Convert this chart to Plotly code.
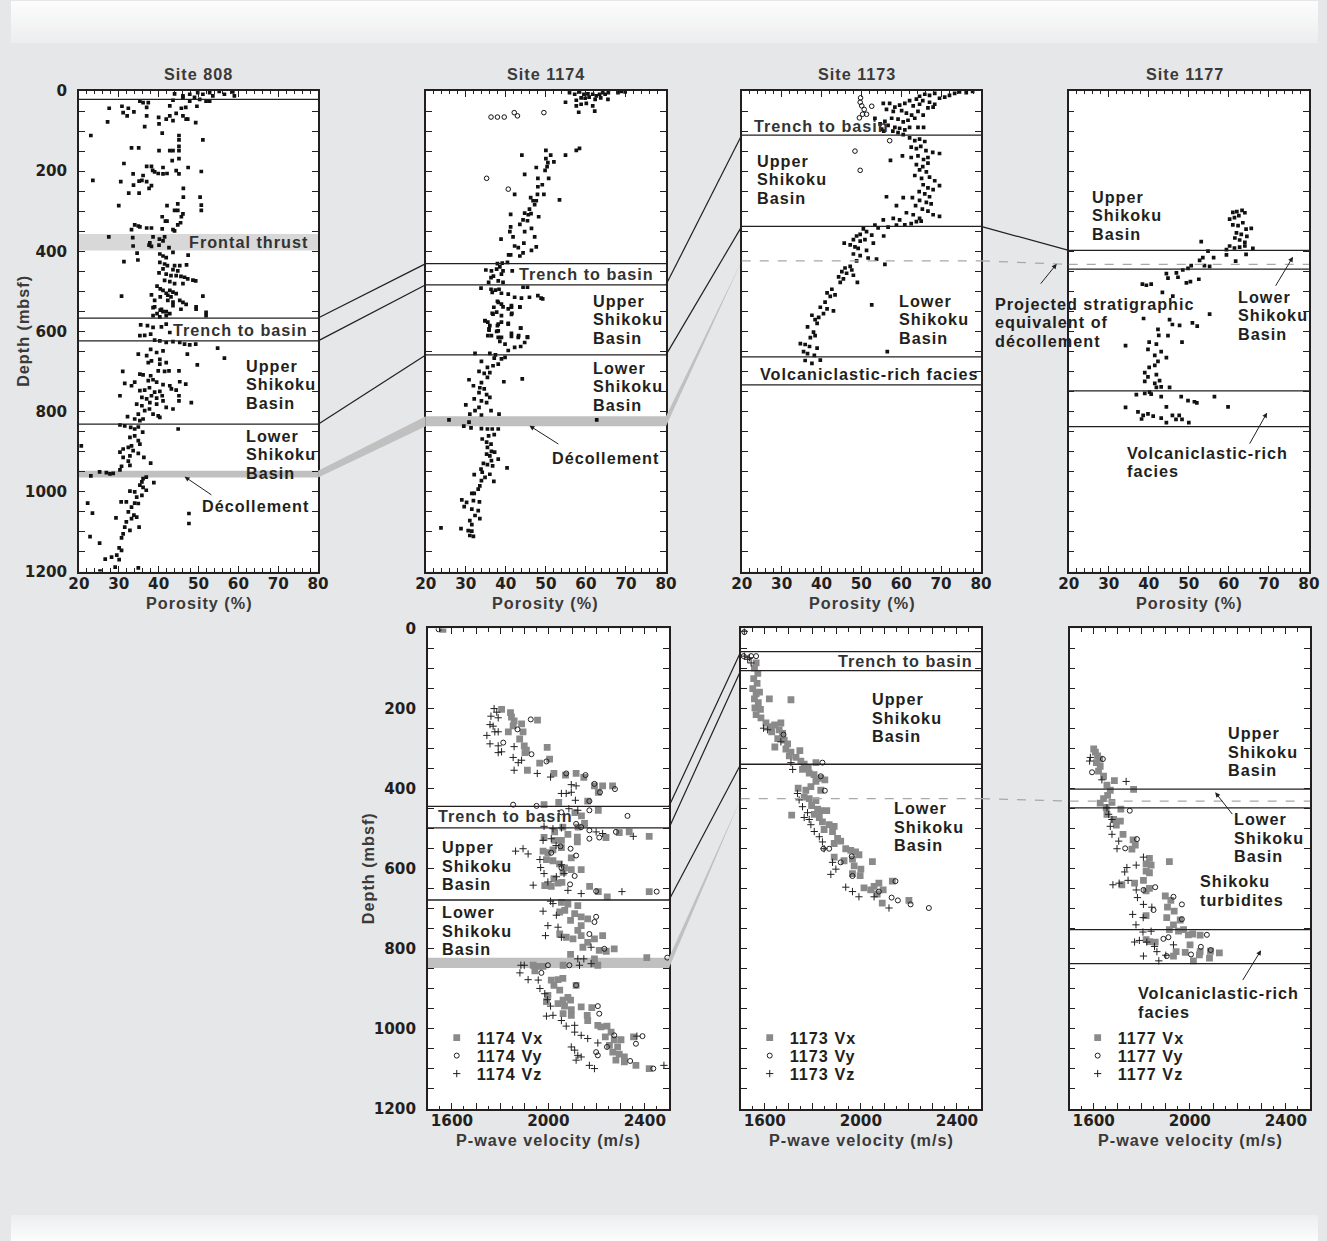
import plotly.graph_objects as go

# Layout is designed on a 1327 x 1241 canvas; the browser view the page is shown in is
# 1345 x 1258 with the default 8 px body margin, so canvas pixels are converted below.
W, H = 1327, 1241
VIEW_W, VIEW_H = 1345, 1258
MARGIN = 8
SX, SY = VIEW_W / W, VIEW_H / H
FW, FH = 1329, 1242

FONT = "Liberation Sans"
NUMFONT = "DejaVu Sans"
INK = "#231f20"
TITLE_INK = "#3a3a3a"
PAGE = "#e6e7e8"

DEPTH_MAX = 1200
POR_RANGE = [20, 80]
VEL_RANGE = [1500, 2500]

# ---------------- porosity (%) , depth (mbsf) ----------------
POR_808 = [
    (44.0, 7), (46.1, 12), (47.8, 8), (49.8, 4), (51.1, 8), (52.8, 4), (53.6, 12), (55.2, 1), (56.5, 8),
    (58.6, 2), (59.0, 12), (49.0, 16), (50.3, 21), (51.9, 25), (52.8, 25), (43.6, 23), (46.1, 16), (47.8, 25),
    (35.3, 25), (36.1, 29), (37.4, 29), (37.0, 41), (27.6, 43), (30.8, 38), (32.4, 43), (31.1, 54), (32.1, 62),
    (33.8, 52), (37.0, 62), (27.2, 77), (36.5, 89), (40.0, 66), (41.9, 70), (42.8, 62), (43.6, 74), (44.4, 56),
    (45.7, 43), (46.8, 41), (46.1, 62), (46.9, 70), (47.3, 70), (49.3, 79), (49.6, 38), (42.8, 37), (40.1, 82),
    (40.9, 105), (23.0, 111), (45.1, 111), (45.1, 122), (51.1, 122), (45.1, 138), (33.2, 142), (35.0, 142),
    (40.1, 149), (42.8, 149), (43.6, 149), (45.1, 149), (45.1, 169), (43.4, 174), (31.3, 181), (37.0, 188),
    (38.2, 188), (41.1, 191), (38.5, 198), (39.0, 202), (39.9, 206), (41.1, 207), (42.1, 206), (44.4, 199),
    (45.1, 207), (47.4, 191), (50.7, 201), (33.6, 207), (36.1, 211), (35.1, 225), (35.8, 223), (37.0, 226),
    (23.5, 223), (30.5, 226), (33.7, 235), (37.6, 243), (38.2, 236), (32.5, 255), (35.1, 255), (46.2, 243),
    (46.2, 265), (50.4, 265), (50.7, 285), (50.7, 298), (30.0, 286), (42.1, 286), (44.8, 282), (44.0, 298),
    (44.8, 298), (46.1, 307), (45.7, 314), (40.9, 314), (41.7, 325), (42.1, 325), (45.5, 329), (44.8, 334),
    (43.6, 346), (44.0, 349), (40.9, 344), (34.0, 334), (34.9, 337), (35.3, 339), (37.0, 342), (38.2, 342),
    (33.2, 346), (27.5, 364), (33.5, 366), (38.6, 364), (41.5, 364), (41.1, 374), (40.2, 370), (33.6, 387),
    (37.6, 385), (38.2, 388), (40.1, 385), (37.8, 379), (42.6, 391), (34.6, 405), (40.3, 407), (41.1, 412),
    (43.6, 403), (47.4, 410), (34.8, 422), (31.3, 426), (41.9, 416), (40.3, 428), (41.5, 432), (42.2, 436),
    (44.0, 436), (45.3, 436), (47.0, 434), (41.1, 444), (43.6, 446), (44.8, 449), (40.1, 454), (41.9, 457),
    (43.1, 461), (44.4, 461), (45.6, 463), (46.5, 465), (47.3, 469), (48.6, 472), (49.3, 474), (41.5, 473),
    (42.8, 476), (44.0, 481), (46.1, 481), (39.6, 487), (40.4, 494), (41.1, 498), (42.8, 498), (41.9, 505),
    (43.6, 502), (44.4, 506), (42.3, 510), (43.1, 514), (30.7, 512), (38.2, 509), (39.0, 523), (40.4, 514),
    (51.1, 512), (42.3, 523), (43.6, 527), (45.3, 523), (46.9, 533), (49.4, 539), (45.6, 545), (39.0, 539),
    (40.4, 547), (41.1, 551), (39.6, 556), (42.8, 556), (51.9, 553), (41.9, 551),
    (38.6, 541), (40.7, 545), (43.6, 536), (46.1, 528), (49.4, 545), (51.9, 561), (38.6, 561), (40.3, 564),
    (41.9, 561), (35.5, 584), (37.2, 586), (38.6, 590), (40.7, 589), (41.9, 582), (42.8, 603), (38.0, 607),
    (35.3, 611), (36.5, 610), (39.0, 622), (40.3, 624), (41.9, 628), (43.6, 626), (45.3, 628), (46.5, 632),
    (47.8, 634), (49.3, 632), (54.8, 642), (56.5, 667), (47.2, 657), (38.0, 645), (39.5, 653), (41.1, 649),
    (34.9, 657), (37.0, 661), (38.2, 674), (40.3, 670), (41.9, 678), (37.4, 678), (49.7, 684), (40.3, 682),
    (31.0, 700), (35.3, 707), (36.1, 709), (38.0, 711), (39.9, 699), (41.5, 700), (42.6, 699), (45.1, 699),
    (38.6, 721), (39.5, 727), (37.4, 723), (31.5, 730), (33.2, 736), (34.0, 727), (41.1, 733), (42.8, 736),
    (45.3, 726), (46.8, 732), (35.3, 748), (36.5, 747), (37.7, 741), (39.0, 752), (40.3, 750), (43.2, 744),
    (44.4, 747), (30.3, 761), (35.8, 765), (37.0, 769), (38.2, 761), (39.5, 767), (40.9, 761), (45.1, 761),
    (48.2, 778), (34.5, 782), (35.8, 786), (37.8, 778), (39.5, 782), (41.1, 774), (45.1, 774), (41.9, 790),
    (43.6, 794), (36.5, 798), (37.7, 794), (34.9, 807), (38.6, 807), (39.9, 811), (40.3, 815), (32.2, 813),
    (34.0, 819), (35.3, 823), (36.1, 819), (30.3, 834), (31.5, 836), (33.0, 840), (34.0, 844), (34.9, 839),
    (36.0, 852), (44.9, 844), (32.8, 865), (34.0, 861), (34.9, 873), (35.3, 882), (33.2, 886), (32.4, 890),
    (31.1, 894), (33.6, 898), (34.9, 905), (32.8, 911), (30.3, 902), (31.1, 915), (36.3, 915), (20.6, 886),
    (38.0, 929), (32.4, 924), (30.7, 937), (32.8, 935), (30.3, 946), (28.6, 955), (26.9, 953), (25.2, 951),
    (23.0, 961), (27.8, 956), (36.1, 968), (36.9, 964), (38.8, 978), (35.8, 976), (35.3, 984), (36.1, 990),
    (36.9, 997), (32.8, 999), (34.0, 1001), (35.8, 1010), (34.5, 1014), (30.6, 1026), (31.9, 1026), (34.0, 1029),
    (34.9, 1030), (22.2, 1029), (33.2, 1039), (32.4, 1051), (33.8, 1059), (34.5, 1064), (33.2, 1068), (23.4, 1054),
    (29.3, 1066), (47.6, 1055), (47.6, 1080), (31.9, 1076), (31.5, 1089), (32.8, 1097), (35.1, 1089), (31.1, 1106),
    (30.7, 1116), (22.8, 1113), (25.2, 1129), (30.1, 1141), (30.7, 1147), (29.5, 1159), (26.6, 1169), (28.2, 1164),
    (29.1, 1189), (25.3, 1199), (34.9, 1191), (30.1, 1170),
]

POR_1174 = [
    (55.9, 4), (57.2, 8), (58.4, 2), (59.5, 8), (60.5, 7), (61.7, 8), (62.6, 12), (63.4, 8), (64.2, 4), (64.8, 8),
    (65.6, 4), (68.0, 4), (68.8, 1), (69.8, 2), (57.6, 23), (58.8, 17), (59.8, 18), (60.8, 15), (62.3, 21),
    (63.7, 17), (65.5, 21), (54.9, 28), (57.6, 37), (58.8, 33), (60.1, 31), (61.7, 37), (58.2, 53), (62.2, 50),
    (50.0, 148), (51.2, 160), (50.0, 169), (52.0, 177), (54.9, 160), (57.6, 148), (58.4, 143), (44.0, 160),
    (50.5, 179), (50.3, 189), (47.6, 191), (49.8, 198), (44.7, 208), (48.0, 218), (50.7, 218), (49.1, 234),
    (48.0, 239), (53.4, 272), (42.2, 258), (47.9, 258), (49.5, 258), (46.2, 266), (46.8, 274), (47.6, 274),
    (47.2, 284), (45.9, 295), (46.3, 306), (44.7, 305), (45.6, 309), (48.2, 314), (41.2, 308), (44.3, 322),
    (45.4, 324), (43.5, 333), (46.4, 343), (41.2, 339), (44.7, 351), (41.0, 351), (41.8, 364), (38.8, 370),
    (47.2, 364), (42.2, 387), (43.1, 391), (47.6, 389), (46.4, 398), (44.5, 380), (44.3, 404), (40.7, 409),
    (41.2, 409), (43.5, 412), (40.4, 428), (39.1, 430), (37.9, 431), (38.5, 439), (37.7, 445), (36.4, 449),
    (35.0, 447), (39.3, 449), (38.9, 457), (41.6, 449), (36.9, 462), (36.3, 466), (38.1, 474), (39.3, 478),
    (35.7, 478), (33.8, 492), (36.3, 495), (37.4, 497), (38.3, 495), (36.6, 503), (38.9, 505), (40.6, 507),
    (44.3, 490), (45.4, 490), (42.2, 515), (43.9, 517), (45.9, 515), (48.0, 511), (48.8, 517), (49.2, 519),
    (37.9, 525), (38.9, 532), (37.0, 540), (40.6, 544), (41.4, 540), (43.5, 540), (37.7, 552), (41.5, 555),
    (36.6, 555), (34.8, 573), (35.5, 577), (38.9, 577), (40.6, 582), (37.9, 586), (35.8, 594), (38.1, 599),
    (43.7, 592), (35.5, 611), (38.1, 615), (41.4, 613), (43.1, 615), (45.4, 615),
    (38.1, 528), (39.3, 539), (41.4, 536), (43.5, 539), (36.8, 557), (38.9, 561), (41.4, 558), (34.8, 574),
    (36.0, 586), (38.1, 582), (40.6, 580), (43.7, 592), (35.8, 597), (37.7, 600), (41.4, 605), (43.2, 611),
    (45.4, 614), (36.4, 611), (38.9, 615), (38.5, 625), (39.8, 632), (42.2, 640), (43.7, 638), (40.6, 648),
    (44.7, 628), (32.3, 655), (36.0, 655), (37.4, 659), (37.1, 667), (38.9, 669), (39.8, 665), (33.9, 675),
    (38.1, 682), (36.8, 686), (35.4, 690), (33.3, 700), (34.6, 705), (36.0, 703), (35.4, 715), (39.5, 726),
    (44.1, 719), (30.8, 721), (33.9, 728), (31.9, 736), (33.5, 741), (34.6, 744), (33.3, 753), (35.2, 758),
    (36.0, 765), (32.1, 769), (33.9, 774), (35.2, 778), (30.0, 784), (33.3, 790), (36.3, 798), (32.3, 798),
    (38.3, 807), (33.9, 809), (31.0, 807), (25.8, 821), (30.8, 827), (29.5, 837), (31.3, 841), (62.7, 821),
    (33.9, 843), (35.4, 844), (36.6, 844), (38.1, 844), (35.7, 861), (37.1, 858), (34.1, 869), (35.2, 877),
    (36.3, 882), (35.4, 890), (36.4, 900), (37.2, 902), (35.2, 907), (36.0, 911), (38.1, 919), (36.4, 923),
    (34.4, 930), (35.4, 933), (36.7, 936), (40.3, 941), (33.8, 944), (34.1, 952), (36.0, 957), (34.8, 965),
    (37.0, 975), (32.1, 958), (33.9, 973), (33.5, 986), (33.1, 994), (32.1, 1005), (31.5, 1005), (29.0, 1021),
    (30.2, 1027), (31.9, 1023), (33.4, 1026), (29.6, 1038), (31.5, 1044), (33.1, 1048), (32.3, 1060),
    (33.5, 1068), (31.0, 1073), (31.5, 1083), (23.8, 1091), (28.8, 1093), (30.6, 1098), (31.5, 1099),
    (31.0, 1110), (31.9, 1112),
]
POR_1174_OPEN = [(36.3, 65), (37.9, 65), (39.6, 65), (42.1, 54), (42.9, 62), (49.5, 54), (35.2, 218), (40.6, 245)]

POR_1173 = [
    (77.9, 1), (76.3, 4), (74.6, 2), (73.4, 6), (72.1, 11), (70.9, 15), (69.6, 18), (68.4, 6), (67.1, 11),
    (65.9, 8), (64.6, 13), (63.8, 20), (65.4, 24), (67.1, 28), (68.4, 33), (66.7, 42), (68.0, 40), (64.6, 33),
    (63.0, 37), (62.1, 24), (60.9, 31), (59.6, 35), (58.4, 40), (57.1, 31), (55.5, 31), (56.3, 46), (58.0, 51),
    (60.1, 49), (61.3, 55), (62.6, 60), (64.2, 51), (65.5, 60), (63.4, 68), (61.7, 73), (60.5, 77), (59.2, 70),
    (57.6, 68), (55.9, 76), (56.7, 86), (58.4, 91), (59.6, 93), (60.9, 97), (62.1, 91), (64.2, 91), (65.6, 91),
    (59.2, 104), (60.5, 109), (57.9, 100), (55.6, 100), (55.1, 95), (54.7, 82), (53.4, 68),
    (62.1, 117), (63.4, 124), (64.6, 120), (65.9, 126), (62.5, 140), (63.8, 144), (64.9, 138), (66.2, 149),
    (67.9, 153), (69.6, 156), (62.5, 166), (64.2, 162), (65.6, 171), (66.7, 166), (60.3, 162), (57.3, 173),
    (63.8, 184), (65.4, 189), (66.7, 180), (64.6, 197), (66.3, 202), (63.4, 211), (65.1, 218), (67.1, 215),
    (68.4, 224), (69.6, 236), (65.5, 234), (66.7, 242), (68.0, 246), (64.5, 251), (65.9, 257), (67.1, 264),
    (56.3, 264), (60.5, 266), (62.8, 266), (64.6, 273), (66.3, 278), (67.5, 282), (63.6, 286), (58.8, 286),
    (65.3, 295), (66.7, 300), (69.6, 313), (68.0, 309), (61.3, 304), (63.0, 309), (64.6, 318), (58.0, 318),
    (59.6, 322), (55.5, 322), (62.5, 331), (63.8, 326), (65.0, 325), (60.9, 334), (58.8, 335), (56.7, 340),
    (53.4, 335), (54.2, 342),
    (50.5, 344), (51.3, 351), (49.7, 358), (48.8, 362), (52.6, 360), (55.6, 362), (48.0, 371), (49.7, 375),
    (50.9, 371), (53.0, 380), (45.7, 380), (47.2, 384), (48.4, 389), (49.2, 393), (51.3, 398), (48.0, 407),
    (49.7, 411), (51.7, 417), (53.8, 420), (55.9, 433), (48.8, 424), (47.2, 438), (45.9, 442), (45.1, 451),
    (46.3, 455), (47.6, 447), (44.3, 464), (45.5, 469), (44.7, 478), (48.0, 460), (49.0, 478), (42.6, 495),
    (41.4, 504), (42.2, 513), (43.4, 509), (40.9, 527), (39.7, 540), (41.4, 544), (43.0, 549), (40.5, 556),
    (39.3, 565), (38.4, 571), (37.6, 560), (36.5, 589), (38.9, 580), (38.0, 602), (38.4, 611), (37.2, 616),
    (52.6, 534), (34.7, 631), (35.9, 633), (37.0, 638), (38.9, 642), (35.5, 651), (36.5, 656), (38.2, 660),
    (39.7, 672), (35.9, 673), (37.6, 680), (56.5, 651),
]
POR_1173_OPEN = [(49.8, 17), (49.7, 28), (50.1, 37), (50.7, 46), (50.3, 58), (51.3, 58), (49.5, 67), (52.6, 38),
                 (57.1, 124), (48.4, 150), (49.7, 198)]

POR_1177 = [
    (61.0, 303), (62.0, 301), (63.3, 298), (64.0, 304), (60.2, 320), (61.4, 316), (62.5, 311), (61.0, 334),
    (62.3, 336), (63.5, 329), (64.3, 345), (65.6, 343), (61.9, 354), (63.1, 358), (64.5, 363), (61.5, 367),
    (62.7, 372), (64.0, 378), (60.2, 387), (61.4, 392), (62.7, 390), (64.0, 387), (66.0, 393), (64.3, 408),
    (59.4, 396), (59.4, 409), (61.7, 425), (56.2, 416), (54.8, 400), (53.1, 376), (53.5, 416), (52.7, 423),
    (53.9, 436), (55.2, 438), (50.6, 436), (49.8, 443), (48.5, 447), (46.9, 454), (44.4, 456), (44.8, 467),
    (47.3, 465), (49.4, 479), (50.4, 476), (52.5, 470), (38.4, 482), (39.4, 485), (40.6, 482), (43.4, 503),
    (46.0, 512), (38.7, 568), (55.2, 557), (45.2, 571), (45.9, 583), (47.7, 585), (50.9, 579), (52.1, 587),
    (42.3, 595), (44.8, 611), (42.5, 610), (48.3, 627), (34.2, 636), (40.1, 627), (41.9, 632), (39.8, 645),
    (43.1, 651), (44.4, 666), (41.5, 660), (42.3, 675), (41.5, 685), (40.1, 690), (39.0, 703), (39.8, 714),
    (41.9, 708), (42.7, 723), (41.5, 730), (41.9, 740), (45.2, 740), (43.1, 739), (39.0, 725), (36.9, 758),
    (39.0, 755), (40.2, 752), (40.6, 757), (43.1, 763), (48.1, 763), (49.8, 773), (51.4, 776), (52.0, 779),
    (56.4, 763), (59.8, 789), (34.2, 790), (44.4, 789), (37.3, 801), (38.6, 810), (39.8, 806), (41.1, 812),
    (38.2, 819), (43.1, 817), (45.9, 810), (47.6, 810), (46.8, 820), (48.3, 820), (44.4, 828), (50.0, 828),
]

# ---------------- P-wave velocity (m/s) , depth (mbsf) ----------------
VX_1174 = [
    (1563, 2), (1806, 202), (1843, 210), (1847, 221), (1854, 243), (1858, 231), (1889, 238), (1955, 229),
    (1834, 258), (1895, 258), (1881, 276), (1900, 293), (1903, 310), (1909, 304), (1995, 297), (1964, 336),
    (1913, 354), (2005, 326), (2023, 362), (2071, 366), (2115, 362), (2147, 372), (2191, 393), (2225, 393),
    (2207, 409), (2266, 393), (2163, 431), (2043, 434), (1982, 440), (2207, 454), (2110, 460), (2137, 468),
    (2150, 487), (2123, 496), (2060, 496), (2026, 508), (2081, 514), (2120, 521), (2120, 533), (2239, 522),
    (2294, 510), (2335, 508), (2418, 519), (1982, 522), (2026, 529), (1978, 556), (1998, 560), (2019, 553),
    (2054, 547), (2095, 573), (1992, 577), (2019, 580), (2046, 588), (2067, 598), (2095, 602), (2136, 602),
    (2061, 609), (2023, 625), (1985, 642), (2012, 644), (2040, 636), (2056, 634), (2171, 644), (2207, 657),
    (2244, 670), (2418, 657), (2054, 529),
    (2054, 684), (2081, 688), (2122, 692), (2068, 704), (2047, 708), (2109, 712), (2136, 720), (2163, 725),
    (2092, 729), (2136, 742), (2122, 754), (2047, 763), (2074, 771), (2102, 775), (2136, 767), (2163, 784),
    (2191, 775), (2225, 767), (2143, 796), (2211, 804), (2240, 806), (2273, 800), (2408, 822), (2092, 814),
    (2191, 825), (2205, 841), (2191, 837), (2061, 841), (1937, 841), (1958, 844), (1978, 844), (1944, 855),
    (2012, 878), (2040, 877), (2060, 874), (2023, 891), (2115, 891), (2047, 903), (1998, 916), (2081, 921),
    (2061, 928), (2092, 928), (1992, 932), (2040, 937), (2067, 943), (2095, 952), (2136, 945), (2180, 947),
    (2061, 962), (2095, 966), (2161, 966), (2163, 979), (2205, 991), (2243, 993), (2218, 995), (2260, 1008),
    (2236, 1020), (2273, 1027), (2301, 1027), (2353, 1020), (2253, 1041), (2287, 1045), (2267, 1058),
    (2294, 1063), (2315, 1070), (2280, 1078), (2315, 1082), (2363, 1091), (2418, 1099),
]
VY_1174 = [
    (1545, 2), (1872, 252), (1927, 227), (1813, 285), (1930, 314), (1992, 332), (2074, 362), (2154, 366),
    (2191, 388), (2214, 409), (2276, 401), (2170, 431), (2170, 454), (1854, 440), (1951, 443), (2054, 459),
    (2115, 488), (2136, 496), (2170, 504), (2170, 525), (2211, 522), (2280, 508), (2328, 468), (2092, 550),
    (2115, 567), (2054, 598), (2109, 618), (2090, 639), (2198, 656), (2449, 657), (2012, 560), (2050, 544),
    (2198, 720), (2170, 763), (2191, 733), (2232, 800), (2493, 822), (2087, 841), (1971, 860), (2115, 891),
    (2205, 943), (2211, 962), (2273, 1016), (2243, 1045), (2198, 1058), (2205, 1066), (2363, 1037),
    (2390, 1018), (2339, 1080), (2435, 1099), (1998, 841),
]
VZ_1174 = [
    (1775, 200), (1786, 209), (1762, 219), (1792, 223), (1758, 240), (1771, 244), (1778, 258), (1792, 258),
    (1745, 267), (1758, 288), (1792, 293), (1806, 308), (1792, 310), (1858, 295), (1854, 322), (1858, 354),
    (1875, 335), (1889, 329), (1954, 362), (2009, 371), (2054, 412), (2074, 412), (2095, 390), (2115, 393),
    (2095, 409), (2112, 429), (2085, 450), (2122, 454), (1982, 494), (2019, 500), (2054, 498), (1978, 529),
    (2012, 525), (2032, 542), (1864, 556), (1895, 550), (1916, 563), (1965, 577), (1968, 597), (1982, 612),
    (1937, 641), (1998, 633), (2033, 620), (2054, 590), (2065, 612), (2081, 654), (2136, 662), (2198, 508),
    (2225, 512), (2352, 519), (2305, 657), (2009, 681), (2019, 687),
    (1978, 706), (2033, 716), (1998, 742), (2040, 746), (1988, 767), (2054, 771), (2177, 796), (2122, 825),
    (2147, 825), (2129, 841), (2177, 837), (1886, 841), (1900, 841), (1882, 860), (1916, 877), (1958, 878),
    (1965, 899), (1985, 912), (1996, 927), (2009, 943), (1992, 968), (2019, 966), (2054, 979), (2074, 993),
    (2109, 991), (2109, 1008), (2136, 1016), (2163, 1024), (2095, 1045), (2109, 1053), (2122, 1066),
    (2136, 1070), (2115, 1078), (2170, 1091), (2191, 1099), (2205, 1035), (2479, 1091), (2367, 1018),
]

VX_1173 = [
    (1564, 86), (1557, 99), (1571, 112), (1554, 125), (1568, 137), (1550, 150), (1564, 163), (1578, 159),
    (1557, 176), (1573, 185), (1559, 198), (1582, 202), (1564, 215), (1584, 223), (1619, 176), (1709, 178),
    (1605, 236), (1626, 245), (1641, 241), (1667, 236), (1629, 258), (1660, 253), (1674, 262), (1654, 275),
    (1681, 279), (1642, 296), (1695, 288), (1688, 301), (1709, 309), (1746, 305), (1702, 318), (1730, 322),
    (1750, 331), (1764, 339), (1781, 348), (1813, 335), (1757, 352), (1785, 361), (1805, 365), (1833, 374),
    (1850, 378), (1813, 382), (1792, 395), (1833, 404), (1771, 404), (1739, 399), (1764, 421), (1785, 425),
    (1813, 430), (1795, 442), (1820, 451), (1833, 455), (1858, 455), (1806, 464), (1712, 466), (1827, 472),
    (1840, 483), (1868, 490), (1889, 494), (1882, 507), (1847, 502), (1903, 524), (1916, 531), (1889, 537),
    (1937, 550), (1958, 554), (1978, 558), (1889, 571), (1930, 580), (1965, 576), (1992, 565), (1972, 593),
    (2000, 601), (1997, 617), (1965, 612), (2048, 582), (2013, 648), (2055, 644), (2075, 636), (2093, 653),
    (2068, 663), (2089, 686), (2131, 631), (2200, 679), (2041, 653),
]
VY_1173 = [
    (1515, 9), (1512, 69), (1543, 69), (1564, 69), (1678, 265), (1840, 335), (1850, 405), (1833, 369),
    (1844, 550), (1916, 584), (1965, 618), (2144, 631), (2128, 672), (2154, 679), (2207, 689), (2283, 698),
    (2075, 657), (1962, 569), (1868, 550),
]
VZ_1173 = [
    (1595, 249), (1612, 253), (1667, 283), (1709, 335), (1716, 352), (1736, 412), (1743, 428), (1757, 445),
    (1778, 460), (1792, 490), (1806, 507), (1827, 520), (1840, 533), (1882, 584), (1896, 601), (1875, 614),
    (1937, 646), (1965, 657), (1992, 670), (2055, 670), (2117, 698), (1785, 477), (1847, 550), (1764, 472),
    (1515, 69), (1529, 77), (1536, 73), (1543, 86), (1515, 7),
]

VX_1177 = [
    (1600, 301), (1607, 309), (1616, 318), (1625, 326), (1611, 335), (1627, 344), (1620, 356), (1641, 369),
    (1686, 380), (1655, 391), (1669, 404), (1658, 417), (1641, 425), (1676, 434), (1627, 436), (1652, 447),
    (1713, 451), (1766, 402), (1655, 464), (1683, 477), (1711, 481), (1694, 491), (1722, 514), (1764, 528),
    (1773, 541), (1759, 551), (1832, 574), (1818, 588), (1839, 591), (1915, 582), (1818, 606), (1832, 610),
    (1807, 629), (1770, 636), (1832, 649), (1818, 655), (1717, 640), (1898, 668), (1921, 679), (1907, 696),
    (1935, 706), (1904, 722), (1960, 728), (1932, 740), (1915, 752), (1953, 756), (1974, 752), (1818, 717),
    (1832, 782), (1818, 777), (1856, 783), (1994, 765), (2012, 763), (2043, 766), (2001, 790), (1943, 807),
    (1981, 809), (2015, 830), (2043, 807), (2082, 823), (2123, 810), (2086, 806), (2040, 815), (1932, 818),
]
VY_1177 = [
    (1638, 326), (1593, 359), (1750, 455), (1780, 526), (1731, 549), (1807, 653), (1849, 703), (1932, 670),
    (1967, 726), (1890, 775), (1911, 771), (2071, 765), (2046, 795), (2005, 814), (2087, 803), (1904, 818),
    (1967, 689), (1856, 646),
]
VZ_1177 = [
    (1583, 331), (1586, 322), (1634, 378), (1735, 382), (1655, 448), (1662, 464), (1676, 477), (1669, 494),
    (1676, 514), (1704, 531), (1697, 550), (1807, 571), (1738, 597), (1777, 591), (1729, 608), (1743, 629),
    (1680, 640), (1706, 636), (1777, 653), (1782, 672), (1807, 689), (1842, 696), (1762, 714), (1806, 722),
    (1776, 740), (1805, 758), (1839, 756), (1770, 783), (1790, 779), (1853, 794), (1863, 807), (1900, 816),
    (1932, 790), (1807, 818), (1871, 830), (1821, 783),
]

# ---------------- unit boundaries (mbsf) ----------------
BOUND_808 = [21, 567, 624, 832]
FRONTAL_808 = (357, 398)
DECOL_808 = (948, 965)
BOUND_1174 = [431, 484, 659]
DECOL_1174 = (812, 837)
BOUND_1173 = [110, 338, 664, 734]
PROJ_1173 = 424
BOUND_1177 = [398, 445, 749, 838]
PROJ_1177 = 433
VBOUND_1174 = [444, 498, 678]
VDECOL_1174 = (822, 848)
VBOUND_1173 = [58, 105, 339]
VPROJ_1173 = 425
VBOUND_1177 = [401, 448, 752, 837]
VPROJ_1177 = 431

# ---------------- panel frames (canvas pixels: left, right, top, bottom) ----------------
PANEL = {
    1: (76, 316, 90, 571),
    2: (424, 665, 90, 571),
    3: (741, 981, 90, 571),
    4: (1069, 1310, 90, 571),
    5: (426, 668, 628, 1109),
    6: (740, 981, 628, 1109),
    7: (1070, 1311, 628, 1109),
}


def fx(px):
    return (px * SX - MARGIN) / FW


def fy(py):
    return 1 - (py * SY - MARGIN) / FH


def depth_px(k, d):
    x0, x1, y0, y1 = PANEL[k]
    return y0 + d / DEPTH_MAX * (y1 - y0)


def aid(k):
    return "" if k == 1 else str(k)


def spaced(s):
    return f'<span style="letter-spacing:1px">{s}</span>'


fig = go.Figure()


def add_points(k, pts, marker, name=None, legend=None):
    fig.add_trace(go.Scatter(
        x=[p[0] for p in pts], y=[p[1] for p in pts], mode="markers",
        xaxis="x" + aid(k), yaxis="y" + aid(k), marker=marker,
        name=spaced(name) if name else None, showlegend=legend is not None, legend=legend or "legend",
        hoverinfo="skip",
    ))


SQ = dict(symbol="square", size=3.7, color="#111111", line=dict(width=0))
OPEN = dict(symbol="circle-open", size=4.6, color="#111111", line=dict(width=1, color="#111111"))
VX = dict(symbol="square", size=6.8, color="#8a8a8a", line=dict(width=0))
VY = dict(symbol="circle-open", size=5, color=INK, line=dict(width=1, color=INK))
VZ = dict(symbol="cross-thin", size=5.2, color=INK, line=dict(width=1, color=INK))

add_points(1, POR_808, SQ)
add_points(2, POR_1174, SQ)
add_points(2, POR_1174_OPEN, OPEN)
add_points(3, POR_1173, SQ)
add_points(3, POR_1173_OPEN, OPEN)
add_points(4, POR_1177, SQ)

FS = 16 * SX                 # label font size
LEGEND_ROWS = [1038, 1056, 1074]
LEGEND_X = {5: 435, 6: 749, 7: 1078}
legends = {}
li = 1
for k, site, series in [
    (5, "1174", (VX_1174, VY_1174, VZ_1174)),
    (6, "1173", (VX_1173, VY_1173, VZ_1173)),
    (7, "1177", (VX_1177, VY_1177, VZ_1177)),
]:
    for (pts, mk, comp), row in zip(zip(series, (VX, VY, VZ), ("Vx", "Vy", "Vz")), LEGEND_ROWS):
        lname = "legend" if li == 1 else f"legend{li}"
        add_points(k, pts, mk, f"{site} {comp}", lname)
        legends[lname] = dict(
            x=fx(LEGEND_X[k]), y=fy(row), xanchor="left", yanchor="middle", bgcolor="rgba(0,0,0,0)",
            borderwidth=0, font=dict(family=FONT, size=FS, color=INK, weight="bold"),
            itemsizing="trace", itemwidth=30)
        li += 1

# ---------------- axes ----------------
tickfont = dict(family=NUMFONT, size=15 * SX, color=INK, weight="bold")
layout_axes = {}
depth_vals = list(range(0, DEPTH_MAX + 1, 50))
for k, (x0, x1, y0, y1) in PANEL.items():
    common = dict(showline=True, linecolor=INK, linewidth=1.5, mirror="allticks", ticks="inside",
                  tickcolor=INK, tickwidth=1.1, ticklen=6, showgrid=False, zeroline=False,
                  tickfont=tickfont, fixedrange=True)
    if k <= 4:
        xa = dict(common, range=POR_RANGE, tickmode="array", tickvals=list(range(20, 81, 10)),
                  ticktext=[str(v) for v in range(20, 81, 10)],
                  minor=dict(dtick=2, tick0=20, ticks="inside", ticklen=3.5, tickwidth=1, tickcolor=INK))
    else:
        vals = list(range(1500, 2501, 100))
        xa = dict(common, range=VEL_RANGE, tickmode="array", tickvals=vals,
                  ticktext=[str(v) if v in (1600, 2000, 2400) else "" for v in vals],
                  minor=dict(dtick=50, tick0=1500, ticks="inside", ticklen=3.5, tickwidth=1, tickcolor=INK))
    xa.update(domain=[fx(x0), fx(x1)], anchor="y" + aid(k), ticklabelstandoff=-3)
    ya = dict(common, range=[DEPTH_MAX, 0], tickmode="array", tickvals=depth_vals,
              ticktext=[str(v) if v % 200 == 0 else "" for v in depth_vals],
              showticklabels=k in (1, 5), ticklabelstandoff=7,
              domain=[fy(y1), fy(y0)], anchor="x" + aid(k))
    layout_axes["xaxis" + aid(k)] = xa
    layout_axes["yaxis" + aid(k)] = ya

# ---------------- shapes ----------------
shapes = []


def hline(k, d, color=INK, width=1.3, dash="solid"):
    shapes.append(dict(type="line", xref=f"x{aid(k)} domain", yref="y" + aid(k), x0=0, x1=1, y0=d, y1=d,
                       line=dict(color=color, width=width, dash=dash), layer="above"))


def band(k, d0, d1, color):
    shapes.append(dict(type="rect", xref=f"x{aid(k)} domain", yref="y" + aid(k), x0=0, x1=1, y0=d0, y1=d1,
                       fillcolor=color, line=dict(width=0), layer="below"))


def connect(ka, da, kb, db, color=INK, width=1.2, dash="solid"):
    xa, ya = PANEL[ka][1], depth_px(ka, da)
    xb, yb = PANEL[kb][0], depth_px(kb, db)
    shapes.append(dict(type="line", xref="paper", yref="paper", x0=fx(xa), y0=fy(ya), x1=fx(xb), y1=fy(yb),
                       line=dict(color=color, width=width, dash=dash), layer="above"))


def polygon(pts, color):
    path = "M " + " L ".join(f"{fx(x):.5f},{fy(y):.5f}" for x, y in pts) + " Z"
    shapes.append(dict(type="path", xref="paper", yref="paper", path=path, fillcolor=color,
                       line=dict(width=0), layer="above"))


BAND_GREY = "#c0c0c0"
THRUST_GREY = "#d8d8d8"
DASH_GREY = "#a8a8a8"

band(1, *FRONTAL_808, THRUST_GREY)
band(1, *DECOL_808, BAND_GREY)
band(2, *DECOL_1174, BAND_GREY)
band(5, *VDECOL_1174, BAND_GREY)

for k, bounds in [(1, BOUND_808), (2, BOUND_1174), (3, BOUND_1173), (4, BOUND_1177),
                  (5, VBOUND_1174), (6, VBOUND_1173), (7, VBOUND_1177)]:
    for d in bounds:
        hline(k, d)
hline(3, PROJ_1173, DASH_GREY, 1.2, "dash")
hline(4, PROJ_1177, DASH_GREY, 1.2, "dash")
hline(6, VPROJ_1173, DASH_GREY, 1.2, "dash")
hline(7, VPROJ_1177, DASH_GREY, 1.2, "dash")

# correlations between sites
for a, b in zip(BOUND_808[1:], BOUND_1174):
    connect(1, a, 2, b)
connect(2, BOUND_1174[1], 3, BOUND_1173[0])
connect(2, BOUND_1174[2], 3, BOUND_1173[1])
connect(3, BOUND_1173[1], 4, BOUND_1177[0])
connect(3, PROJ_1173, 4, PROJ_1177, DASH_GREY, 1.2, "dash")
for a, b in zip(VBOUND_1174, VBOUND_1173):
    connect(5, a, 6, b)
connect(6, VPROJ_1173, 7, VPROJ_1177, DASH_GREY, 1.2, "dash")

polygon([(PANEL[1][1], depth_px(1, DECOL_808[0])), (PANEL[2][0], depth_px(2, DECOL_1174[0])),
         (PANEL[2][0], depth_px(2, DECOL_1174[1])), (PANEL[1][1], depth_px(1, DECOL_808[1]))], BAND_GREY)
polygon([(PANEL[2][1], depth_px(2, DECOL_1174[0])), (PANEL[3][0], depth_px(3, PROJ_1173)),
         (PANEL[2][1], depth_px(2, DECOL_1174[1]))], BAND_GREY)
polygon([(PANEL[5][1], depth_px(5, VDECOL_1174[0])), (PANEL[6][0], depth_px(6, VPROJ_1173)),
         (PANEL[5][1], depth_px(5, VDECOL_1174[1]))], BAND_GREY)


# page background: soft fade towards white at top and bottom
def mix(c0, c1, t):
    return "rgb(%d,%d,%d)" % tuple(round(a + (b - a) * t) for a, b in zip(c0, c1))


WHITE = (252, 252, 252)
LIGHT = (237, 238, 239)
for i in range(14):
    y = i * 3
    shapes.append(dict(type="rect", xref="paper", yref="paper", x0=0, x1=1, y0=fy(y + 3), y1=fy(y),
                       fillcolor=mix(WHITE, LIGHT, i / 13), line=dict(width=0), layer="below"))
for i in range(9):
    y = 1215 + i * 3
    shapes.append(dict(type="rect", xref="paper", yref="paper", x0=0, x1=1, y0=fy(y + 3), y1=fy(y),
                       fillcolor=mix(LIGHT, WHITE, i / 8), line=dict(width=0), layer="below"))

# ---------------- text ----------------
annotations = []
LABEL = dict(family=FONT, size=FS, color=INK, weight="bold")
GREY_TXT = dict(LABEL, color="#333333")
TITLE = dict(family=FONT, size=FS, color=TITLE_INK, weight="bold")
STEP = 18.5


def text(s, x, y, anchor="left", font=LABEL, angle=0):
    annotations.append(dict(text=spaced(s), x=fx(x), y=fy(y), xref="paper", yref="paper", showarrow=False,
                            xanchor=anchor, yanchor="middle", font=font, textangle=angle))


def block(lines, x, y_first, anchor="left", font=LABEL):
    for i, s in enumerate(lines):
        text(s, x, y_first + i * STEP, anchor, font)


def arrow(head, tail):
    annotations.append(dict(text="", x=fx(head[0]), y=fy(head[1]), xref="paper", yref="paper",
                            ax=(tail[0] - head[0]) * SX, ay=(tail[1] - head[1]) * SY,
                            axref="pixel", ayref="pixel",
                            showarrow=True, arrowhead=2, arrowsize=1, arrowwidth=1, arrowcolor=INK,
                            standoff=0, startstandoff=0))


for s, x in [("Site 808", 196), ("Site 1174", 545), ("Site 1173", 857), ("Site 1177", 1186)]:
    text(s, x, 73, "center", TITLE)
for x in (197, 544, 862, 1190):
    text("Porosity (%)", x, 602, "center", TITLE)
for x in (547, 861, 1191):
    text("P-wave velocity (m/s)", x, 1140, "center", TITLE)
text("Depth (mbsf)", 20, 330, "center", TITLE, -90)
text("Depth (mbsf)", 366, 868, "center", TITLE, -90)

USB = ["Upper", "Shikoku", "Basin"]
LSB = ["Lower", "Shikoku", "Basin"]
TB = "Trench to basin"

# Site 808 porosity
text("Frontal thrust", 308, 241, "right", GREY_TXT)
text(TB, 308, 329, "right", GREY_TXT)
block(USB, 242, 365)
block(LSB, 242, 435)
text("Décollement", 198, 505)
arrow((182, 476), (210, 495))
# Site 1174 porosity
text(TB, 655, 273, "right", GREY_TXT)
block(USB, 590, 300)
block(LSB, 590, 367)
text("Décollement", 549, 457)
arrow((528, 425), (558, 444))
# Site 1173 porosity
text(TB, 751, 125, "left", GREY_TXT)
block(USB, 754, 160)
block(LSB, 897, 300)
text("Volcaniclastic-rich facies", 757, 373)
# Site 1177 porosity
block(USB, 1090, 196)
block(LSB, 1237, 296)
block(["Projected stratigraphic", "equivalent of", "décollement"], 993, 303)
block(["Volcaniclastic-rich", "facies"], 1125, 452)
arrow((1294, 256), (1276, 286))
arrow((1057, 263), (1040, 284))
arrow((1268, 412), (1250, 444))
# Site 1174 velocity
text(TB, 434, 816, "left", GREY_TXT)
block(USB, 438, 847)
block(LSB, 438, 912)
# Site 1173 velocity
text(TB, 975, 661, "right", GREY_TXT)
block(USB, 870, 699)
block(LSB, 892, 808)
# Site 1177 velocity
block(USB, 1227, 733)
block(LSB, 1233, 819)
block(["Shikoku", "turbidites"], 1199, 881)
block(["Volcaniclastic-rich", "facies"], 1137, 993)
arrow((1216, 792), (1234, 815))
arrow((1262, 950), (1243, 981))

fig.update_layout(
    width=FW, height=FH, autosize=False,
    margin=dict(l=0, r=0, t=0, b=0),
    paper_bgcolor=PAGE, plot_bgcolor="white",
    font=dict(family=FONT, color=INK),
    showlegend=True,
    shapes=shapes, annotations=annotations,
    **legends,
    **layout_axes,
)

fig.write_html("out.html")
